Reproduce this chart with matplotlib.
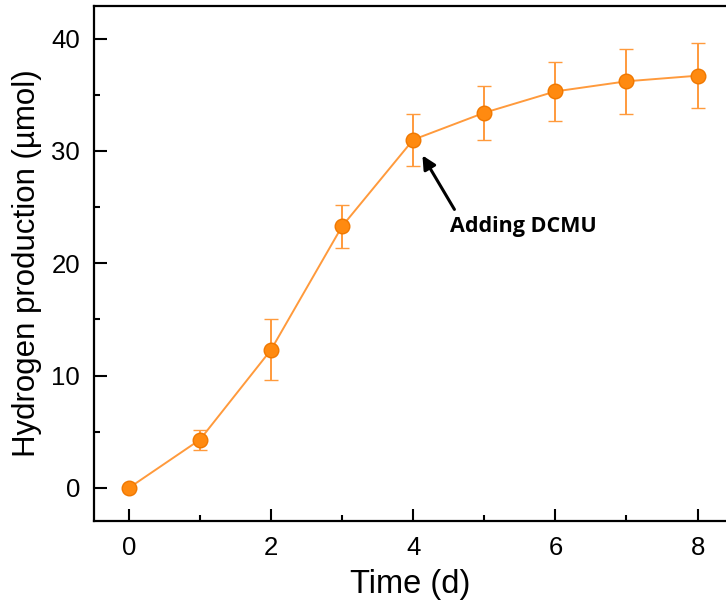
import matplotlib.pyplot as plt
from matplotlib.ticker import MultipleLocator

# Hydrogen production over time
days = [0, 1, 2, 3, 4, 5, 6, 7, 8]
hydrogen = [0.0, 4.3, 12.3, 23.3, 31.0, 33.4, 35.3, 36.2, 36.7]
errors = [0.1, 0.9, 2.7, 1.9, 2.3, 2.4, 2.6, 2.9, 2.9]

plt.rcParams['font.family'] = ['Liberation Sans', 'DejaVu Sans']

fig = plt.figure(figsize=(7.26, 6.04), dpi=100)
ax = fig.add_axes([0.1295, 0.1374, 0.8705, 0.8526])

ax.errorbar(days, hydrogen, yerr=errors, color='#ff9a3c', lw=1.4,
            elinewidth=1.4, capsize=5, capthick=1.4,
            marker='o', markersize=10.5, markerfacecolor='#ff8a10',
            markeredgecolor='#f07800', markeredgewidth=1, zorder=3)

ax.annotate('Adding DCMU', xy=(4.13, 29.6), xytext=(5.55, 23.3),
            ha='center', va='center', fontsize=15.5, fontweight='bold',
            family=['Open Sans', 'DejaVu Sans'],
            arrowprops=dict(arrowstyle='-|>', color='black', lw=2.2,
                            mutation_scale=20, shrinkA=0, shrinkB=0,
                            relpos=(0.03, 1.3)))

ax.set_xlim(-0.49, 8.4)
ax.set_ylim(-2.94, 42.9)
ax.xaxis.set_major_locator(MultipleLocator(2))
ax.xaxis.set_minor_locator(MultipleLocator(1))
ax.yaxis.set_major_locator(MultipleLocator(10))
ax.yaxis.set_minor_locator(MultipleLocator(5))

ax.tick_params(which='both', direction='in', width=1.5, labelsize=18.5,
               top=False, right=False)
ax.tick_params(axis='x', pad=11)
ax.tick_params(axis='y', pad=10)
ax.tick_params(which='major', length=9)
ax.tick_params(which='minor', length=4.5)

for side in ['left', 'bottom', 'top']:
    ax.spines[side].set_linewidth(1.6)
ax.spines['right'].set_visible(False)

ax.set_xlabel('Time (d)', fontsize=23.5, labelpad=6)
ax.set_ylabel('Hydrogen production (µmol)', fontsize=22.5, labelpad=7)

plt.savefig('out.png', dpi=100)
plt.close()
